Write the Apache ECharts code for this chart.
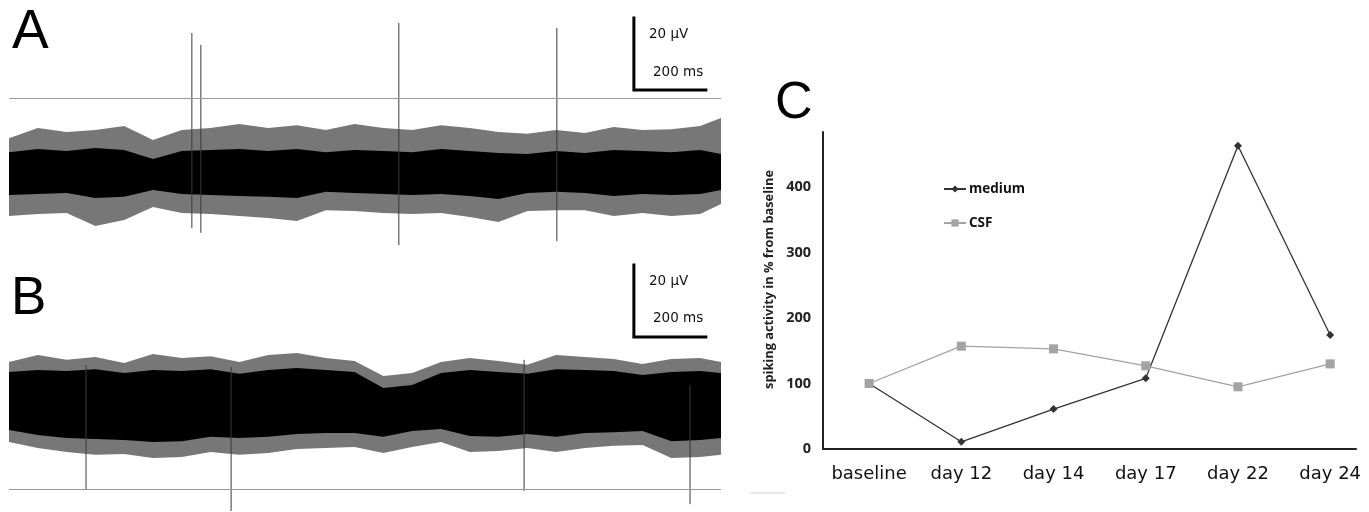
<!DOCTYPE html>
<html>
<head>
<meta charset="utf-8">
<script src="https://cdn.jsdelivr.net/npm/echarts@6/dist/echarts.min.js"></script>
<style>
html, body { margin: 0; padding: 0; background: #fff; }
#chart { width: 1369px; height: 512px; }
</style>
</head>
<body>
<div id="chart"></div>
<script>
// panel C: spiking activity relative to baseline (%)
const days = ['baseline', 'day 12', 'day 14', 'day 17', 'day 22', 'day 24']
const medium = [100, 11, 61, 108, 463, 174]
const csf = [100, 157, 153, 127, 95, 130]

// panels A/B: noise envelope of the raw traces in µV, read every 80 ms
const sampleMs = [0, 80, 160, 240, 320, 400, 480, 560, 640, 720, 800, 880, 960, 1040, 1120, 1200, 1280, 1360, 1440, 1520, 1600, 1680, 1760, 1840, 1920, 1978]

const aOuterUp = [9.4, 12.2, 11.1, 11.7, 12.8, 8.9, 11.7, 12.2, 13.3, 12.2, 13, 11.7, 13.3, 12.2, 11.7, 13, 12.2, 11.1, 10.6, 11.7, 10.8, 12.5, 11.7, 11.9, 12.8, 15]
const aOuterLow = [-12.2, -11.7, -11.4, -15, -13.3, -9.7, -11.4, -11.7, -12.2, -12.8, -13.6, -10.6, -10.8, -11.4, -11.7, -11.4, -12.5, -13.9, -10.8, -10.6, -10.6, -12.2, -11.4, -12.2, -11.7, -8.9]
const aCoreUp = [5.5, 6.4, 5.8, 6.7, 6.1, 3.6, 5.8, 6.1, 6.4, 5.8, 6.4, 5.5, 6.1, 5.8, 5.5, 6.4, 5.8, 5.3, 5.0, 5.8, 5.3, 6.1, 5.8, 5.5, 6.1, 5.0]
const aCoreLow = [-6.4, -6.1, -5.8, -7.2, -6.9, -5.0, -6.1, -6.4, -6.7, -6.9, -7.2, -5.5, -5.8, -6.1, -6.4, -6.1, -6.7, -7.5, -5.8, -5.5, -5.8, -6.7, -6.1, -6.4, -6.1, -5.0]

const bOuterUp = [11.4, 13.3, 12.0, 12.8, 11.1, 13.6, 12.5, 13.0, 11.4, 13.3, 13.9, 12.5, 11.7, 7.5, 8.3, 11.4, 12.5, 11.7, 10.6, 13.3, 12.8, 12.2, 10.8, 12.2, 12.5, 11.4]
const bOuterLow = [-10.8, -12.5, -13.6, -14.4, -14.2, -15.3, -15.0, -13.6, -14.4, -13.9, -12.8, -12.5, -12.2, -13.9, -12.2, -10.8, -13.6, -13.3, -12.5, -13.6, -12.5, -11.9, -11.7, -15.3, -15.0, -14.4]
const bCoreUp = [8.6, 9.2, 8.9, 9.4, 8.3, 9.2, 8.9, 9.4, 8.1, 9.2, 9.7, 9.2, 8.6, 4.2, 5.0, 8.3, 9.2, 8.6, 8.1, 9.4, 9.2, 8.9, 7.8, 8.6, 8.9, 8.3]
const bCoreLow = [-7.5, -8.9, -9.7, -10.0, -10.3, -10.8, -10.6, -9.4, -9.7, -9.4, -8.6, -8.3, -8.3, -9.4, -7.8, -7.2, -9.2, -9.4, -8.6, -9.4, -8.3, -8.1, -7.8, -10.6, -10.3, -9.7]

// detected spikes (time ms, top / bottom µV) and detection thresholds
const aSpikeMs = [508, 533, 1083, 1522]
const aSpikeTop = [38.6, 35.3, 41.4, 40]
const aSpikeBottom = [-15.6, -16.9, -20.3, -19.2]
const aThreshold = 20.6

const bSpikeMs = [214, 617, 1431, 1892]
const bSpikeTop = [10.6, 10, 12, 5]
const bSpikeBottom = [-23.9, -30, -24.4, -28.1]
const bThreshold = -23.9

const scaleMs = 200
const scaleUv = 20

function band(idx, up, low, color) {
    return {
        type: 'custom', xAxisIndex: idx, yAxisIndex: idx, silent: true,
        data: sampleMs.map((t, i) => [t, low[i], up[i]]),
        renderItem: function (params, api) {
            if (params.dataIndex !== 0) return null
            let top = sampleMs.map((t, i) => api.coord([t, up[i]]))
            let bot = sampleMs.map((t, i) => api.coord([t, low[i]])).reverse()
            return { type: 'polygon', shape: { points: top.concat(bot) }, style: { fill: color } }
        }
    }
}

function spikes(idx, ms, top, bottom) {
    return {
        type: 'custom', xAxisIndex: idx, yAxisIndex: idx, silent: true,
        data: ms.map((t, i) => [t, bottom[i], top[i]]),
        renderItem: function (params, api) {
            let p1 = api.coord([api.value(0), api.value(1)])
            let p2 = api.coord([api.value(0), api.value(2)])
            return {
                type: 'line',
                shape: { x1: p1[0], y1: p1[1], x2: p2[0], y2: p2[1] },
                style: { stroke: '#3a3a3a', lineWidth: 1 }
            }
        }
    }
}

function scaleBar(idx, cornerMs, cornerUv, threshold) {
    return {
        type: 'line', xAxisIndex: idx, yAxisIndex: idx, silent: true, symbol: 'none',
        data: [[cornerMs, cornerUv + scaleUv], [cornerMs, cornerUv], [cornerMs + scaleMs, cornerUv]],
        lineStyle: { color: '#000', width: 3, join: 'miter', cap: 'square' },
        markLine: {
            silent: true, symbol: 'none', animation: false,
            label: { show: false },
            lineStyle: { color: '#9a9a9a', width: 1.2, type: 'solid' },
            data: [{ yAxis: threshold }]
        }
    }
}

const hiddenX = { type: 'value', min: 0, max: 1978, show: false }
const txt = (t, x, y, size) => ({
    type: 'text', x: x, y: y,
    style: { text: t, fontFamily: 'DejaVu Sans', fontSize: size, fill: '#111', textVerticalAlign: 'middle' }
})
const letter = (t, x, y, size) => ({
    type: 'text', x: x, y: y,
    style: { text: t, fontFamily: 'Liberation Sans', fontSize: size, fill: '#000', textVerticalAlign: 'middle' }
})
const boldFont = { fontFamily: 'Open Sans', fontWeight: 'bold', color: '#222' }

let myChart = echarts.init(document.getElementById('chart'))
myChart.setOption({
    animation: false,
    backgroundColor: '#fff',
    grid: [
        { left: 9, top: 10, width: 712, height: 252, outerBoundsMode: 'none' },
        { left: 9, top: 259, width: 712, height: 252, outerBoundsMode: 'none' },
        { left: 823, top: 132, width: 533, height: 317, outerBoundsMode: 'none' }
    ],
    xAxis: [
        Object.assign({ gridIndex: 0 }, hiddenX),
        Object.assign({ gridIndex: 1 }, hiddenX),
        {
            gridIndex: 2, type: 'value', min: -0.5, max: 5.28, interval: 0.5,
            axisLine: { onZero: false, lineStyle: { color: '#222', width: 2 } },
            axisTick: { show: false },
            splitLine: { show: false },
            axisLabel: {
                fontFamily: 'DejaVu Sans', fontSize: 18, color: '#111', margin: 16,
                formatter: v => Math.abs(v - Math.round(v)) < 1e-6 && days[Math.round(v)] ? days[Math.round(v)] : ''
            }
        }
    ],
    yAxis: [
        { gridIndex: 0, type: 'value', min: -25, max: 45, show: false },
        { gridIndex: 1, type: 'value', min: -30, max: 40, show: false },
        {
            gridIndex: 2, type: 'value', min: 0, max: 484, interval: 100,
            axisLine: { show: true, onZero: false, lineStyle: { color: '#222', width: 2 } },
            axisTick: { show: false },
            splitLine: { show: false },
            axisLabel: Object.assign({ showMaxLabel: false, fontSize: 14.5, margin: 12 }, boldFont),
            name: 'spiking activity in % from baseline',
            nameLocation: 'middle', nameGap: 47, nameRotate: 90,
            nameTextStyle: Object.assign({ fontSize: 12.8, padding: [0, 0, 0, 22] }, boldFont)
        }
    ],
    legend: {
        orient: 'vertical', left: 938, top: 177,
        itemWidth: 22, itemHeight: 9, itemGap: 20,
        textStyle: Object.assign({ fontSize: 13.5, padding: [0, 0, 0, -2] }, boldFont, { color: '#111' }),
        data: ['medium', 'CSF']
    },
    graphic: [
        letter('A', 12, 33, 55),
        letter('B', 11, 299, 53),
        letter('C', 775, 104, 52),
        txt('20 µV', 649, 34, 13.5),
        txt('200 ms', 653, 72, 13.5),
        txt('20 µV', 649, 281, 13.5),
        txt('200 ms', 653, 318, 13.5),
        { type: 'line', shape: { x1: 750, y1: 493, x2: 785, y2: 493 }, style: { stroke: '#cfcfcf', lineWidth: 1 } }
    ],
    series: [
        band(0, aOuterUp, aOuterLow, '#777'),
        band(0, aCoreUp, aCoreLow, '#000'),
        spikes(0, aSpikeMs, aSpikeTop, aSpikeBottom),
        scaleBar(0, 1736, 22.8, aThreshold),
        band(1, bOuterUp, bOuterLow, '#777'),
        band(1, bCoreUp, bCoreLow, '#000'),
        spikes(1, bSpikeMs, bSpikeTop, bSpikeBottom),
        scaleBar(1, 1736, 18.3, bThreshold),
        {
            name: 'medium', type: 'line', xAxisIndex: 2, yAxisIndex: 2,
            data: medium.map((v, i) => [i, v]),
            symbol: 'diamond', symbolSize: 8,
            itemStyle: { color: '#333' },
            lineStyle: { color: '#333', width: 1.3 }
        },
        {
            name: 'CSF', type: 'line', xAxisIndex: 2, yAxisIndex: 2,
            data: csf.map((v, i) => [i, v]),
            symbol: 'rect', symbolSize: 9,
            itemStyle: { color: '#a3a3a3' },
            lineStyle: { color: '#a3a3a3', width: 1.3 }
        }
    ]
})
</script>
</body>
</html>
